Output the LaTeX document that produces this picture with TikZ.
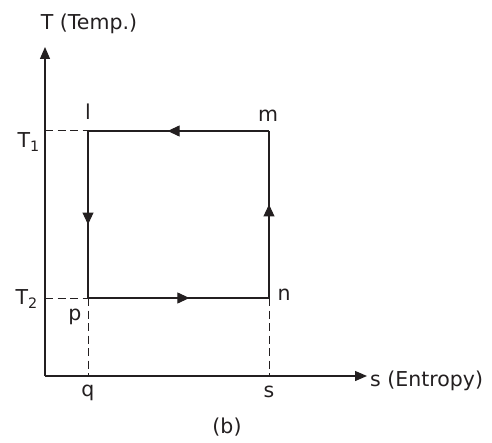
\documentclass[tikz,border=0pt]{standalone}
\usepackage{fontspec}
\setmainfont{DejaVu Sans}
\usetikzlibrary{arrows.meta,decorations.markings}
\definecolor{ink}{HTML}{231F20}
\tikzset{>={Triangle[length=12pt,width=10pt]},
  axis/.style={draw=ink,line width=1.3pt,->},
  stroke/.style={draw=ink,line width=1.1pt,postaction={decorate},
    decoration={markings,mark=at position 0.56 with {\arrow{Triangle[length=12pt,width=11pt]}}}},
  guide/.style={draw=ink,line width=1pt,dash pattern=on 8pt off 4.5pt},
  lab/.style={font=\fontsize{20.5}{24}\selectfont,text=ink,inner sep=0pt}}

\begin{document}
\begin{tikzpicture}[x=1pt,y=1pt]
\useasboundingbox (0,0) rectangle (492,442);
% axes
\coordinate (O) at (45,66);
\coordinate (ytip) at (45,395);
\coordinate (xtip) at (367,66);
\draw[axis] (O) -- (ytip);
\draw[axis] (O) -- (xtip);
% cycle corners
\coordinate (l) at (88,311);
\coordinate (m) at (269,311);
\coordinate (n) at (269,144);
\coordinate (p) at (88,144);
\coordinate (q) at (88,66);
\coordinate (s) at (269,66);
\coordinate (t1) at (45,311);
\coordinate (t2) at (45,144);
\draw[guide] (t1) -- (l);
\draw[guide] (t2) -- (p);
\draw[guide] (p) -- (q);
\draw[guide] (n) -- (s);
\draw[stroke] (m) -- (l);
\draw[stroke] (l) -- (p);
\draw[stroke] (p) -- (n);
\draw[stroke] (n) -- (m);
% labels
\node[lab] (Tlab) at (89,418) {T (Temp.)};
\node[lab,anchor=west] (slab) at (370,61) {s (Entropy)};
\node[lab,anchor=east] (T1lab) at (40,300) {T\textsubscript{1}};
\node[lab,anchor=east] (T2lab) at (38,143) {T\textsubscript{2}};
\node[lab] (llab) at (88,330) {l};
\node[lab] (mlab) at (268,326) {m};
\node[lab] (nlab) at (284,147) {n};
\node[lab] (plab) at (75,125) {p};
\node[lab] (qlab) at (88,49) {q};
\node[lab] (slab2) at (269,50) {s};
\node[lab] (blab) at (227,15) {(b)};
\end{tikzpicture}
\end{document}
